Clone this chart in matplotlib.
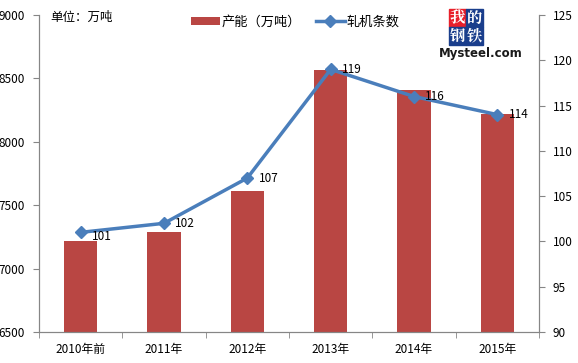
import numpy as np
import matplotlib.pyplot as plt
from matplotlib.patches import Rectangle

plt.rcParams['font.family'] = ['Noto Sans CJK SC', 'DejaVu Sans']

# ____________________________________________________________
# data

years = ['2010年前', '2011年', '2012年', '2013年', '2014年', '2015年']
capacity = [7218, 7289, 7612, 8566, 8408, 8219]   # 产能（万吨）
mills = [101, 102, 107, 119, 116, 114]             # 轧机条数

left_ticks = [6500, 7000, 7500, 8000, 8500, 9000]
right_ticks = [90, 95, 100, 105, 110, 115, 120, 125]

bar_color = '#B94643'
line_color = '#4A7EBB'
axis_color = '#868686'

# ____________________________________________________________
# plot

fig = plt.figure(figsize=(5.78, 3.63), dpi=100)
ax = fig.add_axes([39 / 578, 31 / 363, 500 / 578, 317 / 363])
x = np.arange(len(years))

ax.bar(x, capacity, width=0.4, color=bar_color, zorder=2, label='产能（万吨）')
ax.set_ylim(6500, 9000)
ax.set_xlim(-0.5, len(years) - 0.5)
ax.set_yticks(left_ticks)
ax.set_xticks(x)
ax.set_xticklabels(years, fontsize=8.5)
ax.set_xticks(np.arange(-0.5, len(years), 1.0), minor=True)
ax.tick_params(axis='x', which='major', length=0, pad=8)
ax.tick_params(axis='x', which='minor', length=4, color=axis_color)
ax.tick_params(axis='y', length=4, color=axis_color, labelsize=8.5, pad=6)

ax2 = ax.twinx()
ax2.plot(x, mills, color=line_color, lw=2.5, marker='D', ms=6,
         zorder=3, label='轧机条数')
ax2.set_ylim(90, 125)
ax2.set_yticks(right_ticks)
ax2.tick_params(axis='y', length=4, color=axis_color, labelsize=8.5, pad=6)

for i, v in enumerate(mills):
    dy = -3 if i == 0 else 0
    ax2.annotate(str(v), (x[i], v), xytext=(8, dy), textcoords='offset points',
                 ha='left', va='center', fontsize=8.5)

for a in (ax, ax2):
    a.spines['top'].set_visible(False)
    for s in ('left', 'right', 'bottom'):
        a.spines[s].set_color(axis_color)

# legend
h1, l1 = ax.get_legend_handles_labels()
h2, l2 = ax2.get_legend_handles_labels()
fig.legend(h1 + h2, l1 + l2, loc='center left', bbox_to_anchor=(184 / 578, 1 - 22 / 363),
           ncol=2, frameon=False, fontsize=9.5, handlelength=2.2, handleheight=0.55,
           columnspacing=1.1, handletextpad=0.15, borderpad=0)

fig.text(50 / 578, 1 - 17 / 363, '单位：万吨', fontsize=9, va='center')

# logo
cells = [('我', '#E8202A', 449, 9), ('的', '#1A3E8C', 466, 9),
         ('钢', '#1A3E8C', 449, 27), ('铁', '#1A3E8C', 466, 27)]
for ch, c, px, py in cells:
    fig.patches.append(Rectangle((px / 578, 1 - (py + 18) / 363), 17 / 578, 18 / 363,
                                 transform=fig.transFigure, color=c, zorder=5))
    fig.text((px + 8.5) / 578, 1 - (py + 9) / 363, ch, color='white', fontsize=11,
             fontweight='bold', ha='center', va='center', zorder=6,
             family=['Noto Serif CJK SC', 'Noto Sans CJK SC'])
fig.text(481 / 578, 1 - 54 / 363, 'Mysteel.com', fontsize=8.5, ha='center',
         va='center', color='#1a1a1a', fontweight='bold', family='DejaVu Sans')

fig.savefig('out.png', dpi=100)
